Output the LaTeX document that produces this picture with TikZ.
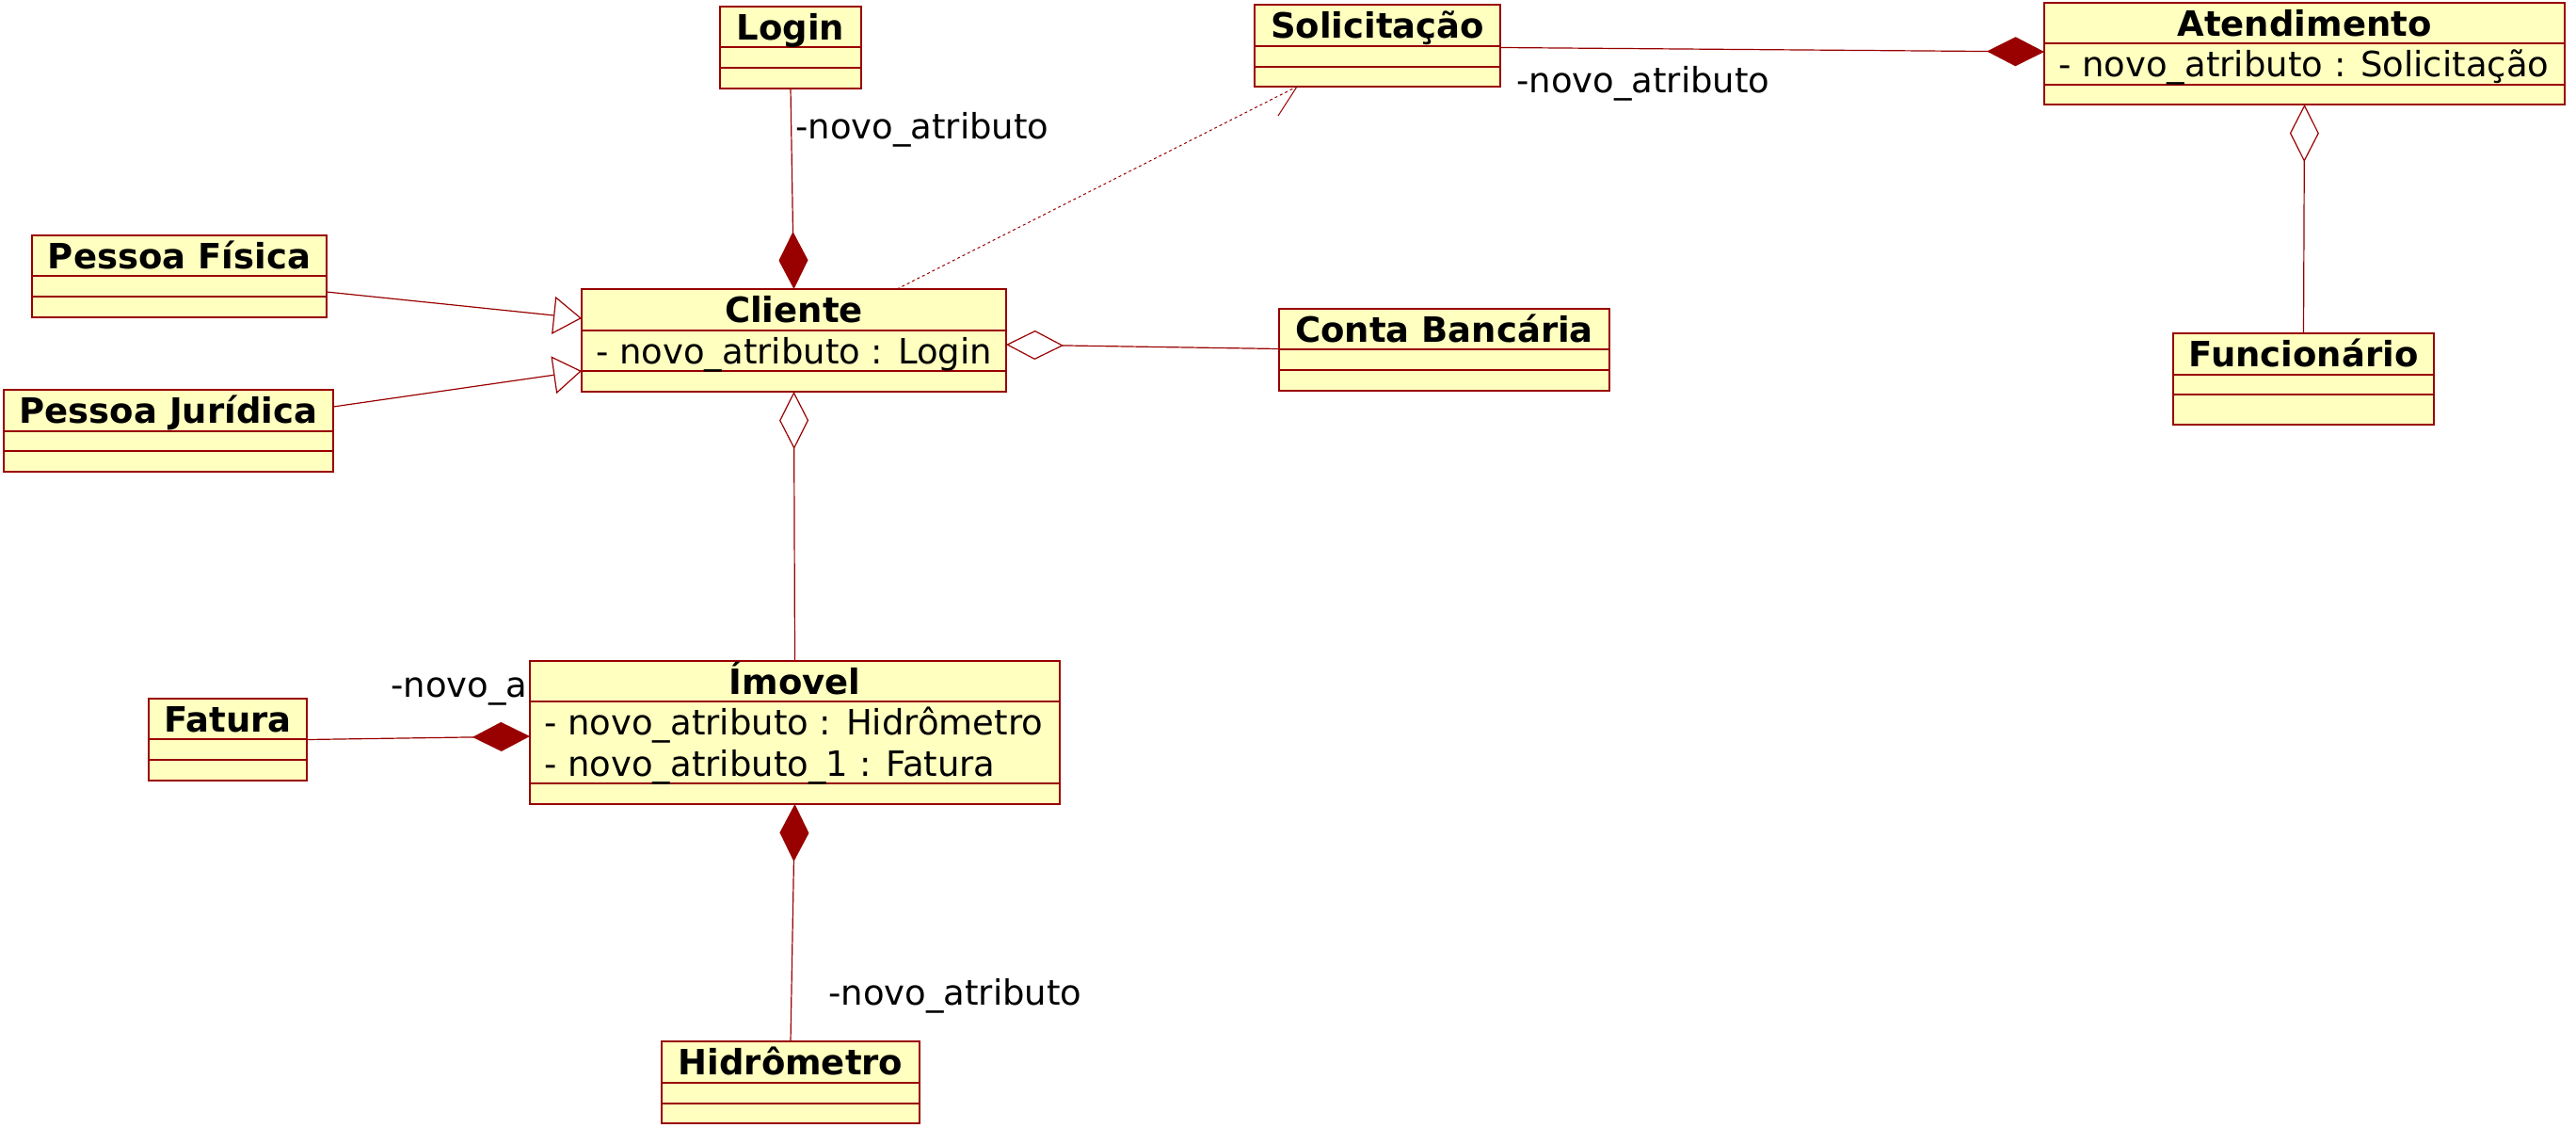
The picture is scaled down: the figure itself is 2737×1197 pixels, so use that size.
\documentclass[tikz,border=0pt]{standalone}
\usepackage{fontspec}
\setmainfont{DejaVu Sans}
\usetikzlibrary{arrows.meta}
\definecolor{umlred}{HTML}{990000}
\definecolor{umlfill}{HTML}{FFFFC0}
% name, x, y, width, height, divider1, divider2, title, extra
\newcommand\umlcls[9]{%
  \node[clsbox, minimum width=#4pt, minimum height=#5pt] (#1) at (#2,#3) {};
  \draw[clsline] ([yshift=-#6pt]#1.north west) -- ([yshift=-#6pt]#1.north east);
  \draw[clsline] ([yshift=-#7pt]#1.north west) -- ([yshift=-#7pt]#1.north east);
  \node[clstitle] (#1-t) at ([yshift=-35.5pt]#1.north) {#8};
  #9}
\begin{document}
\begin{tikzpicture}[x=1pt,y=-1pt,
  clsbox/.style={draw=umlred, fill=umlfill, line width=2pt, inner sep=0pt, outer sep=0pt, anchor=north west},
  clsline/.style={draw=umlred, line width=2pt},
  clstitle/.style={font=\fontsize{37pt}{44pt}\selectfont\bfseries, anchor=base, inner sep=0pt},
  clsattr/.style={font=\fontsize{37pt}{44pt}\selectfont, anchor=base west, inner sep=0pt},
  lbl/.style={font=\fontsize{37pt}{44pt}\selectfont, anchor=base west, inner sep=0pt},
  conn/.style={draw=umlred, line width=1.2pt},
  comp/.style={conn, -{Diamond[length=61pt,width=31pt,fill=umlred]}},
  aggr/.style={conn, -{Diamond[open,length=61pt,width=31pt]}},
  gen/.style={conn, -{Triangle[open,length=30pt,width=40pt]}},
  dep/.style={draw=umlred, line width=1pt, dash pattern=on 3pt off 3pt}]
\useasboundingbox (0,0) rectangle (2737,1197);

% labels (drawn first so boxes may cover them)
\node[lbl] (l1) at (845,147) {-novo\_atributo};
\node[lbl] (l2) at (1611,98) {-novo\_atributo};
\node[lbl] (l3) at (415,740) {-novo\_a};
\node[lbl] (l4) at (880,1067) {-novo\_atributo};

% classes
\umlcls{login}{765}{7}{150}{87}{43}{65}{Login}{}
\umlcls{solic}{1333}{5}{261}{87}{44}{66}{Solicitação}{}
\umlcls{atend}{2172}{3}{553}{108}{43}{87}{Atendimento}{%
  \node[clsattr] (atend-a1) at (2187,81) {- novo\_atributo : Solicitação};}
\umlcls{pf}{34}{250}{313}{87}{43}{65}{Pessoa Física}{}
\umlcls{pj}{4}{414}{350}{87}{44}{65}{Pessoa Jurídica}{}
\umlcls{cliente}{618}{307}{451}{109}{44}{87}{Cliente}{%
  \node[clsattr] (cliente-a1) at (633,386.5) {- novo\_atributo : Login};}
\umlcls{conta}{1359}{328}{351}{87}{43}{65}{Conta Bancária}{}
\umlcls{func}{2309}{354}{277}{97}{44}{65}{Funcionário}{}
\umlcls{imovel}{563}{702}{563}{152}{43}{130}{Ímovel}{%
  \node[clsattr] (imovel-a1) at (578,780.5) {- novo\_atributo : Hidrômetro};
  \node[clsattr] (imovel-a2) at (578,824.3) {- novo\_atributo\_1 : Fatura};}
\umlcls{fatura}{158}{742}{168}{87}{43}{65}{Fatura}{}
\umlcls{hidro}{703}{1106}{274}{87}{44}{66}{Hidrômetro}{}

% connectors
\draw[comp] (login.south) -- (cliente.north);
\draw[comp] ([yshift=-2pt]solic.east) -- ([yshift=2pt]atend.west);
\draw[aggr] (func.north) -- (atend.south);
\draw[gen] ([yshift=-16.5pt]pf.east) -- ([yshift=23.5pt]cliente.west);
\draw[gen] ([yshift=25.5pt]pj.east) -- ([yshift=-32.5pt]cliente.west);
\draw[aggr] ([yshift=1pt]conta.west) -- ([yshift=-4.5pt]cliente.east);
\draw[aggr] (imovel.north) -- (cliente.south);
\draw[comp] (fatura.east) -- ([yshift=-4pt]imovel.west);
\draw[comp] (hidro.north) -- (imovel.south);
\coordinate (deptip) at ([xshift=-85.5pt]solic.south);
\draw[dep] ([xshift=109.5pt]cliente.north) -- (deptip);
\draw[conn, line width=1pt] (deptip) -- ++(-20,31);
\end{tikzpicture}
\end{document}
